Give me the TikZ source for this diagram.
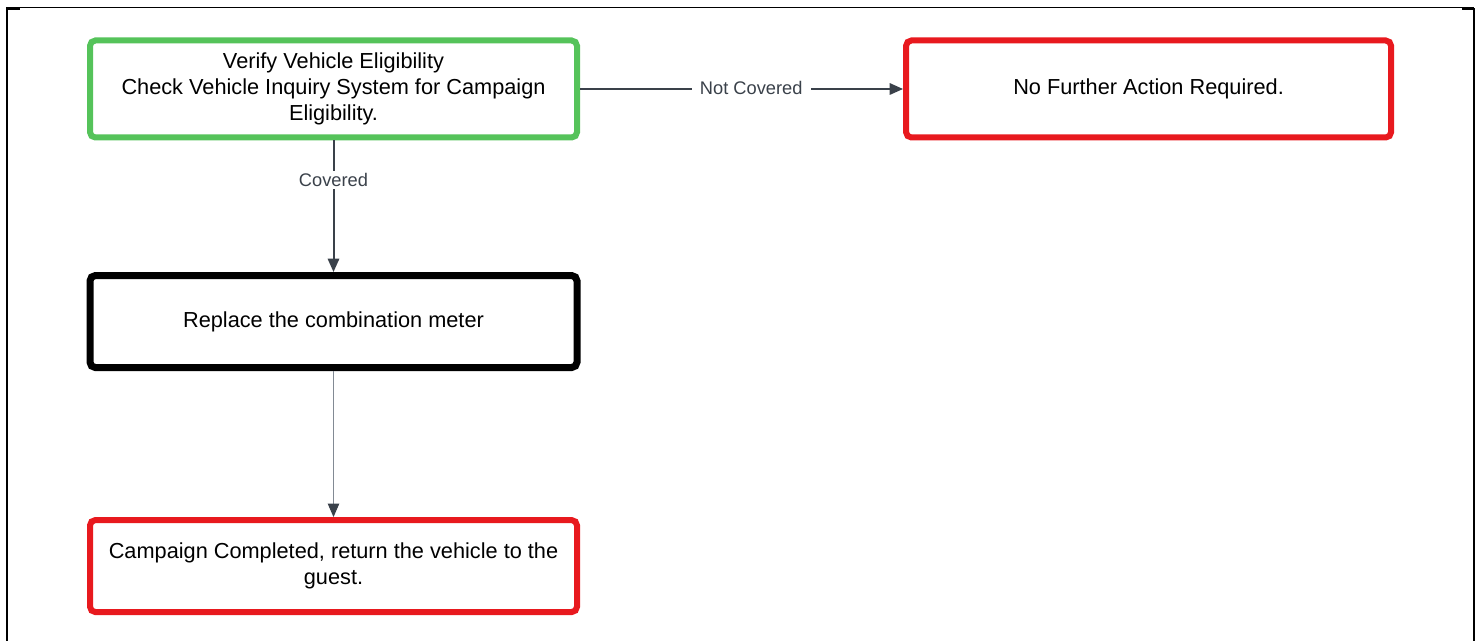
\documentclass[tikz,border=0pt]{standalone}
\usepackage{fontspec}
\setmainfont{Liberation Sans}
\usetikzlibrary{arrows.meta,positioning}
\definecolor{lgreen}{RGB}{85,195,90}
\definecolor{lred}{RGB}{232,25,30}
\definecolor{ldark}{RGB}{58,65,74}
\definecolor{lgray}{RGB}{130,138,148}
\tikzset{%
  >={Triangle[width=8.5pt,length=10pt]},
  % Specifications for style of nodes:
            base/.style = {rectangle, rounded corners=4pt, draw=black, fill=white,
                           minimum width=365.25pt, inner sep=0pt,
                           align=center, font=\fontsize{16.3}{19.5}\selectfont},
       greenbox/.style = {base, draw=lgreen, line width=4.5pt, minimum height=72.75pt},
         redbox/.style = {base, draw=lred, line width=4.5pt},
       blackbox/.style = {base, line width=5.25pt, minimum height=69pt},
          label/.style = {fill=white, text=ldark, inner xsep=6pt,
                           font=\fontsize{13.7}{16}\selectfont},
           link/.style = {draw=ldark, line width=1.5pt},
}
\begin{document}
\begin{tikzpicture}[x=0.75pt, y=-0.75pt, node distance=174.4pt]
  \useasboundingbox (0,0) rectangle (1480,641);
  % frame, cut off at the bottom
  \draw[line width=0.75pt] (6,8) -- (1474,8);
  \draw[line width=1.5pt] (7,641) -- (7,9) -- (20,9);
  \draw[line width=1.5pt] (1462,9) -- (1474,9) -- (1474,641);

  % Specification of nodes (position, etc.)
  \node (verify)      [greenbox] at (333.5,89) {Verify Vehicle Eligibility\\Check Vehicle Inquiry System for Campaign\\Eligibility.};
  \node (nofurther)   [redbox, minimum width=363.75pt, minimum height=72.75pt, right of=verify, xshift=436.9pt] {No Further Action Required.};
  \node (replace)     [blackbox, below of=verify] {Replace the combination meter};
  \node (done)        [redbox, minimum height=69pt, below of=replace, yshift=-9pt] {Campaign Completed, return the vehicle to the\\guest.};

  \draw[->, link]     (verify) -- (nofurther) node[label, pos=0.53, yshift=1pt] {Not Covered};
  \draw[->, link]     (verify) -- (replace) node[label, pos=0.3, inner ysep=2pt] {Covered};
  \draw[-{Triangle[width=8.5pt,length=10pt,color=ldark]}, draw=lgray, line width=0.75pt] (replace) -- (done);
\end{tikzpicture}
\end{document}
